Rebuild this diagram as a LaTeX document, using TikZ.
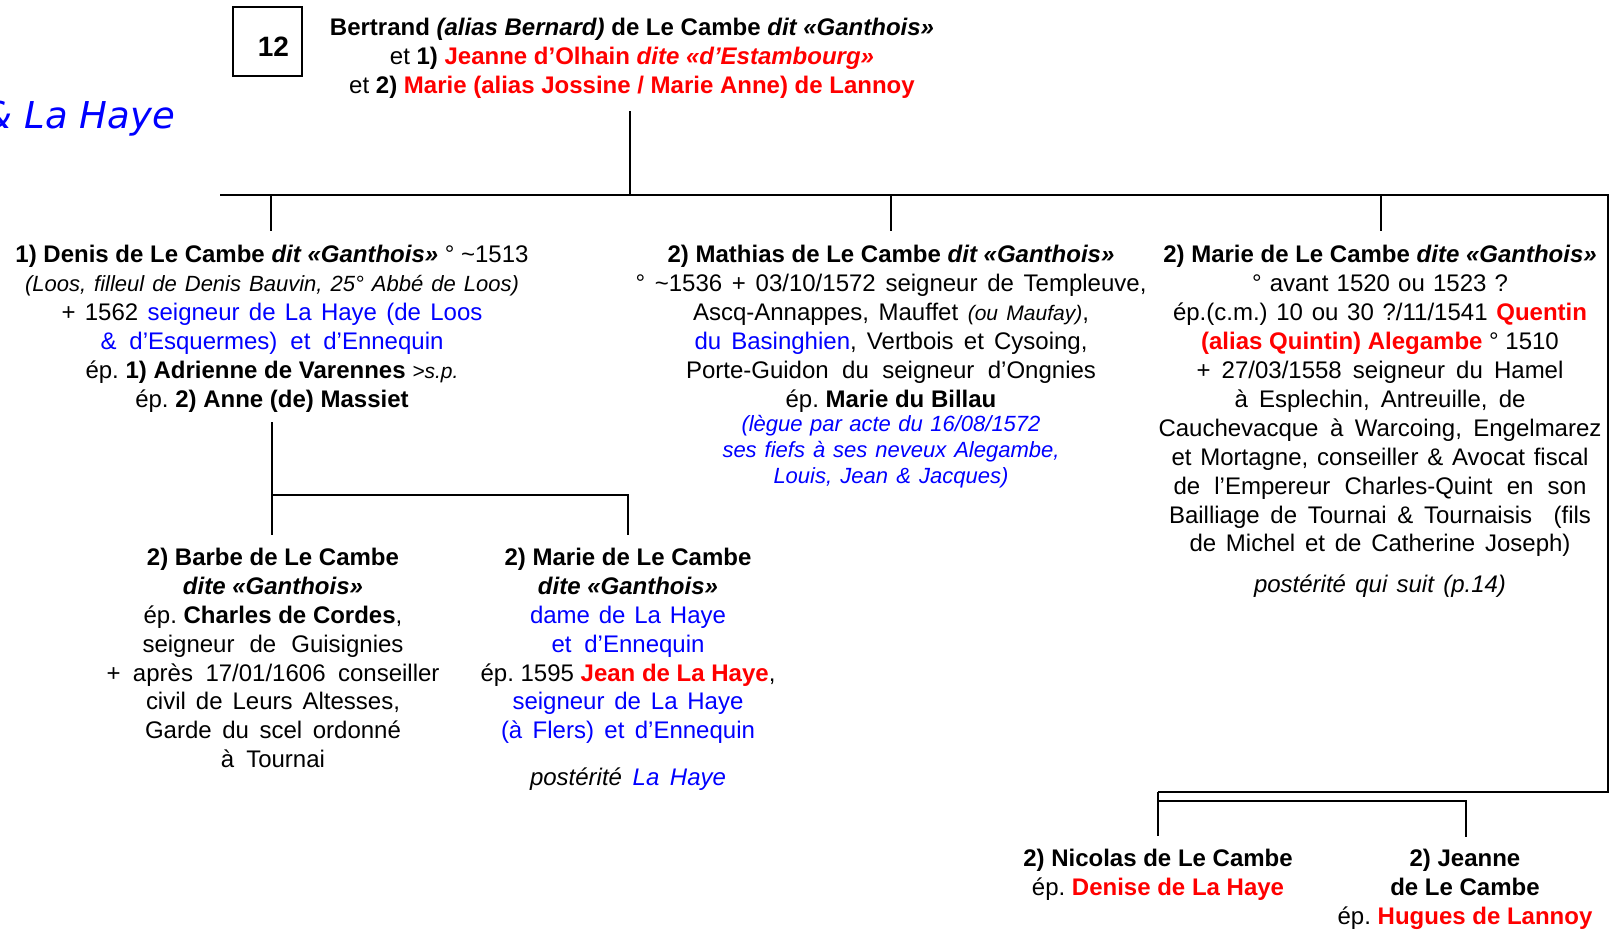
\documentclass[tikz,border=0pt]{standalone}
\usepackage{fontspec}
\setmainfont{Liberation Sans}
\newfontfamily\verd{DejaVu Sans}
\definecolor{tred}{RGB}{255,0,0}
\definecolor{tblue}{RGB}{0,0,255}
\newcommand{\bl}[1]{\textcolor{tblue}{#1}}
\newcommand{\rd}[1]{\textcolor{tred}{#1}}
\newcommand{\smf}{\fontsize{21}{28.9}\selectfont}
\newcommand{\ismf}{\fontsize{22}{28.9}\selectfont\itshape}
\newcommand{\jl}[2]{\hbox to #1pt{#2}}
\frenchspacing
\begin{document}
\begin{tikzpicture}[x=1pt,y=-1pt,
  txt/.style={inner sep=0pt, align=center, font=\fontsize{24}{28.9}\selectfont},
  ital/.style={inner sep=0pt, align=center, font=\fontsize{22}{25.7}\selectfont\itshape},
  link/.style={line width=2.2pt}]
\fill[white] (0,0) rectangle (1610,930);
\useasboundingbox (0,0) rectangle (1610,930);

% number box
\node[draw, line width=1.4pt, minimum width=69pt, minimum height=69pt, inner sep=0pt,
      font=\fontsize{28}{32}\selectfont\bfseries] (num) at (267.5,41.5) {\raisebox{-4.5pt}[20pt][0pt]{\hspace{6pt}12\hspace{-6pt}}};

% series label (cut off at left)
\node[inner sep=0pt, anchor=base east, text=tblue, font=\verd\fontsize{37}{42}\selectfont\itshape] (series) at (175,128) {\& La Haye};

% title
\node[txt, anchor=north] (title) at (632,15) {\strut\textbf{Bertrand \textit{(alias Bernard)} de Le Cambe \textit{dit «Ganthois»}}\\
et \textbf{1)} \rd{\textbf{Jeanne d’Olhain \textit{dite «d’Estambourg»}}}\\
et \textbf{2)} \rd{\textbf{Marie (alias Jossine / Marie Anne) de Lannoy}}};

% children
\node[txt, anchor=north] (denis) at (272,242.5) {\strut\textbf{1) Denis de Le Cambe \textit{dit «Ganthois»}} ° \textasciitilde1513\\
\jl{494}{\ismf(Loos, filleul de Denis Bauvin, 25° Abbé de Loos)}\\
\jl{421}{+ 1562 \bl{seigneur de La Haye (de Loos}}\\
\jl{343}{\bl{\& d’Esquermes) et d’Ennequin}}\\
ép. \textbf{1) Adrienne de Varennes} {\smf\itshape >s.p.}\\
ép. \textbf{2) Anne (de) Massiet}};

\node[txt, anchor=north] (mathias) at (891,242.5) {\strut\textbf{2) Mathias de Le Cambe \textit{dit «Ganthois»}}\\
\jl{511}{° \textasciitilde1536 + 03/10/1572 seigneur de Templeuve,}\\
\jl{396}{Ascq-Annappes, Mauffet {\smf\itshape (ou Maufay)},}\\
\jl{393}{\bl{du Basinghien}, Vertbois et Cysoing,}\\
\jl{410}{Porte-Guidon du seigneur d’Ongnies}\\
ép. \textbf{Marie du Billau}};
\node[ital, anchor=north, text=tblue] (mathiasnote) at (891,413.5) {\strut\jl{299}{(lègue par acte du 16/08/1572}\\
\jl{337}{ses fiefs à ses neveux Alegambe,}\\
\jl{235}{Louis, Jean \& Jacques)}};

\node[txt, anchor=north] (marie) at (1380,242.5) {\strut\textbf{2) Marie de Le Cambe \textit{dite «Ganthois»}}\\
\jl{256}{° avant 1520 ou 1523 ?}\\
\jl{414}{ép.(c.m.) 10 ou 30 ?/11/1541 \rd{\textbf{Quentin}}}\\
\rd{\textbf{(alias Quintin) Alegambe}} ° 1510\\
\jl{367}{+ 27/03/1558 seigneur du Hamel}\\
\jl{291}{à Esplechin, Antreuille, de}\\
\jl{443}{Cauchevacque à Warcoing, Engelmarez}\\
\jl{417}{et Mortagne, conseiller \& Avocat fiscal}\\
\jl{413}{de l’Empereur Charles-Quint en son}\\
\jl{422}{Bailliage de Tournai \& Tournaisis \ (fils}\\
\jl{381}{de Michel et de Catherine Joseph)}};
\node[txt, anchor=base, font=\fontsize{24}{28.9}\selectfont\itshape] (mariepost) at (1380,592) {\jl{252}{postérité qui suit (p.14)}};

% grandchildren of Denis
\node[txt, anchor=north] (barbe) at (273,545) {\strut\textbf{2) Barbe de Le Cambe}\\
\textbf{\textit{dite «Ganthois»}}\\
ép. \textbf{Charles de Cordes},\\
\jl{261}{seigneur de Guisignies}\\
\jl{333}{+ après 17/01/1606 conseiller}\\
\jl{254}{civil de Leurs Altesses,}\\
\jl{256}{Garde du scel ordonné}\\
\jl{104}{à Tournai}};
\node[txt, anchor=north] (marie2) at (628,545) {\strut\textbf{2) Marie de Le Cambe}\\
\textbf{\textit{dite «Ganthois»}}\\
\jl{196}{\bl{dame de La Haye}}\\
\jl{153}{\bl{et d’Ennequin}}\\
ép. 1595 \rd{\textbf{Jean de La Haye}},\\
\jl{231}{\bl{seigneur de La Haye}}\\
\jl{254}{\bl{(à Flers) et d’Ennequin}}};
\node[txt, anchor=base, font=\fontsize{24}{28.9}\selectfont\itshape] (marie2post) at (628,785.5) {\jl{196}{postérité \bl{La Haye}}};

% grandchildren of Marie
\node[txt, anchor=north] (nicolas) at (1158,846) {\strut\textbf{2) Nicolas de Le Cambe}\\
ép. \rd{\textbf{Denise de La Haye}}};
\node[txt, anchor=north] (jeanne) at (1465,846) {\strut\textbf{2) Jeanne}\\
\textbf{de Le Cambe}\\
ép. \rd{\textbf{Hugues de Lannoy}}};

% junction coordinates
\coordinate (ttop) at (630,111);
\coordinate (tbar) at (630,195);
\coordinate (barL) at (220,195);
\coordinate (barR) at (1608,195);
\coordinate (denisJ) at (271,195);
\coordinate (denisT) at (271,231);
\coordinate (mathJ) at (891,195);
\coordinate (mathT) at (891,231);
\coordinate (marieJ) at (1381,195);
\coordinate (marieT) at (1381,231);
\coordinate (rdown) at (1608,792);
\coordinate (mbar) at (1158,792);
\coordinate (nicT) at (1158,836);
\coordinate (mbar2R) at (1466,801);
\coordinate (mbar2L) at (1158,801);
\coordinate (jeaT) at (1466,837);
\coordinate (dtop) at (272,422);
\coordinate (dbar) at (272,495);
\coordinate (dbarR) at (628,495);
\coordinate (barbeT) at (272,535);
\coordinate (marie2T) at (628,535);

% connectors
\draw[link] (ttop) -- (tbar);
\draw[link] (barL) -- (barR) -- (rdown) -- (mbar);
\draw[link] (denisJ) -- (denisT);
\draw[link] (mathJ) -- (mathT);
\draw[link] (marieJ) -- (marieT);
\draw[link] (dtop) -- (dbar) -- (barbeT);
\draw[link] (dbar) -- (dbarR) -- (marie2T);
\draw[link] (mbar) -- (nicT);
\draw[link] (mbar2L) -- (mbar2R) -- (jeaT);
\end{tikzpicture}
\end{document}
